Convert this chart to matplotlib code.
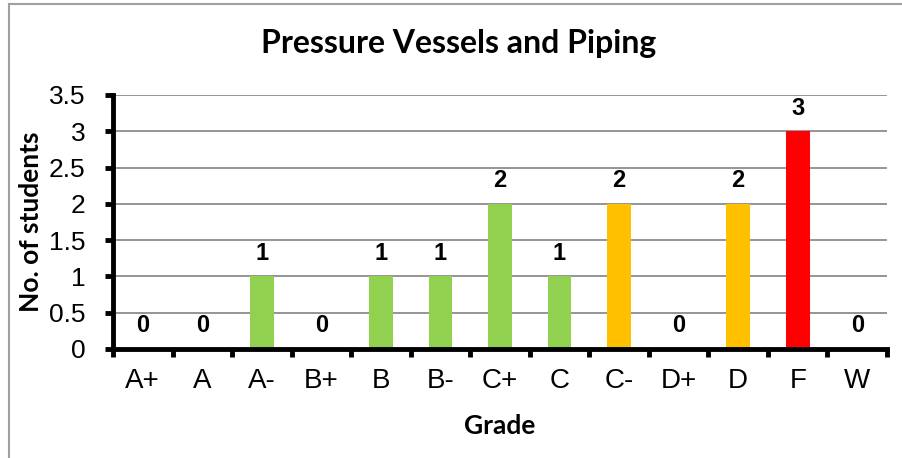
import matplotlib.pyplot as plt
from matplotlib.lines import Line2D

# Data
grades = ["A+", "A", "A-", "B+", "B", "B-", "C+", "C", "C-", "D+", "D", "F", "W"]
students = [0, 0, 1, 0, 1, 1, 2, 1, 2, 0, 2, 3, 0]
bar_colors = ["#92D050"] * 8 + ["#FFC000", "#92D050", "#FFC000", "#FF0000", "#92D050"]

fig = plt.figure(figsize=(9.02, 4.58), dpi=100)
ax = fig.add_axes([113 / 902, 1 - 349 / 458, 774 / 902, 254 / 458])

x = range(len(grades))
ax.bar(x, students, width=0.4, color=bar_colors, zorder=3)

for i, v in enumerate(students):
    ax.text(i, v + 0.16, str(v), ha="center", va="bottom",
            fontsize=17, fontweight="bold", family="Liberation Sans", zorder=4)

ax.set_xlim(-0.5, len(grades) - 0.5)
ax.set_ylim(0, 3.5)
ax.set_yticks([0, 0.5, 1, 1.5, 2, 2.5, 3, 3.5])
ax.set_yticklabels(["0", "0.5", "1", "1.5", "2", "2.5", "3", "3.5"])
ax.set_xticks(list(x))
ax.set_xticklabels(grades)
ax.set_xticks([i - 0.5 for i in range(len(grades) + 1)], minor=True)

ax.grid(axis="y", color="#8c8c8c", linewidth=1.3, zorder=0)
for s in ["top", "right"]:
    ax.spines[s].set_visible(False)
for s in ["left", "bottom"]:
    ax.spines[s].set_linewidth(3.5)
    ax.spines[s].set_zorder(5)

ax.tick_params(axis="y", direction="out", length=6, width=3.5, pad=14,
               labelsize=19, labelfontfamily="Liberation Sans")
ax.tick_params(axis="x", which="major", length=0, pad=14,
               labelsize=20, labelfontfamily="Liberation Sans")
ax.tick_params(axis="x", which="minor", direction="out", length=6, width=3.5)

ax.set_title("Pressure Vessels and Piping", fontsize=23, fontweight="bold",
             family="Lato", pad=30, x=0.447)
ax.set_xlabel("Grade", fontsize=19, fontweight="bold", family="Lato", labelpad=14)
ax.set_ylabel("No. of students", fontsize=19, fontweight="bold", family="Lato",
              labelpad=4)

# chart border (left and top edges visible)
fig.add_artist(Line2D([9 / 902, 9 / 902], [0, 1 - 4 / 458], transform=fig.transFigure,
                      color="#a0a0a0", linewidth=1.5))
fig.add_artist(Line2D([9 / 902, 1], [1 - 4 / 458, 1 - 4 / 458], transform=fig.transFigure,
                      color="#a0a0a0", linewidth=1.5))

fig.savefig("out.png", dpi=100)
